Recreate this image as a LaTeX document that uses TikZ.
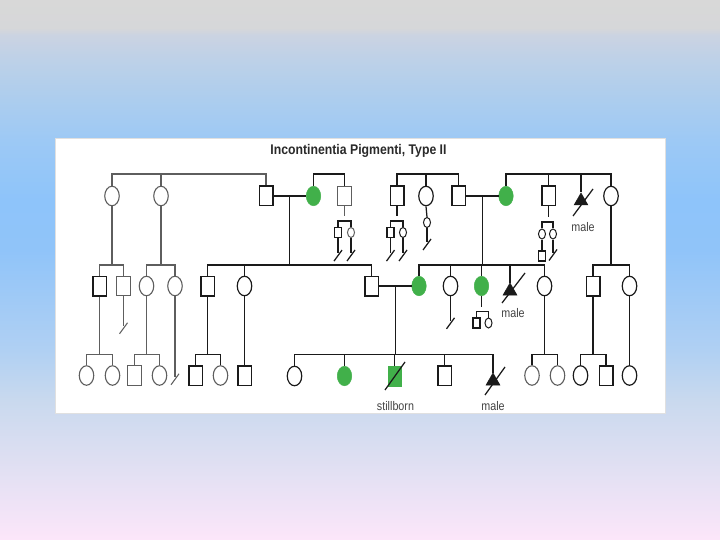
\documentclass[tikz,border=0pt]{standalone}
\usepackage{fontspec}
\setmainfont{Liberation Sans}
\usetikzlibrary{shapes.geometric}
\definecolor{bgA}{HTML}{FCE6FA}
\definecolor{bgB}{HTML}{E2E0F3}
\definecolor{bgC}{HTML}{C9D9EE}
\definecolor{bgD}{HTML}{B0D0F3}
\definecolor{bgE}{HTML}{90C4F9}
\definecolor{bgF}{HTML}{8EC4FA}
\definecolor{bgG}{HTML}{9DC9F5}
\definecolor{bgH}{HTML}{ACCDEE}
\definecolor{bgI}{HTML}{BDD1E8}
\definecolor{bgJ}{HTML}{CBD3E2}
\definecolor{bgK}{HTML}{D6D7D9}
\definecolor{bgL}{HTML}{D8D8D8}
\definecolor{lc}{HTML}{1A1A1A}
\definecolor{gc}{HTML}{5E5E5E}
\definecolor{ipgreen}{HTML}{41B04A}
\definecolor{titc}{HTML}{2A2A2A}
\definecolor{labc}{HTML}{444444}
\pgfdeclareverticalshading{bgshade}{100bp}{color(0bp)=(bgA); color(25bp)=(bgA); color(31.48bp)=(bgB); color(37.96bp)=(bgC); color(42.59bp)=(bgD); color(51.85bp)=(bgE); color(56.48bp)=(bgF); color(62.04bp)=(bgG); color(65.74bp)=(bgH); color(69.44bp)=(bgI); color(71.76bp)=(bgJ); color(72.41bp)=(bgK); color(75bp)=(bgL); color(100bp)=(bgL)}
\newcommand\pedslash[1]{\draw[ln] (#1) ++(-4,8) -- ++(8,-11);}
\begin{document}
\begin{tikzpicture}[x=1pt,y=-1pt,
  sq/.style={rectangle,inner sep=0pt,minimum width=13.5pt,minimum height=19.5pt,draw=lc,line width=1.5pt},
  gsq/.style={sq,draw=gc,line width=1.1pt},
  ci/.style={ellipse,inner sep=0pt,minimum width=14.5pt,minimum height=19.5pt,draw=lc,line width=1.2pt},
  gci/.style={ci,draw=gc,line width=1.1pt},
  ssq/.style={rectangle,inner sep=0pt,minimum width=7pt,minimum height=10pt,draw=lc,line width=1.2pt},
  sci/.style={ellipse,inner sep=0pt,minimum width=7pt,minimum height=10pt,draw=lc,line width=1pt},
  aff/.style={fill=ipgreen,draw=ipgreen,line width=0.5pt},
  tri/.style={regular polygon,regular polygon sides=3,inner sep=0pt,minimum size=16pt,fill=lc,draw=lc,line width=0.5pt},
  lab/.style={text=labc,font=\fontsize{12.5}{14}\selectfont,inner sep=0pt,anchor=base},
  ln/.style={draw=lc,line width=1.25pt},
  lg/.style={draw=gc,line width=1.05pt}
]
\useasboundingbox (0,0) rectangle (720,540);
\fill[shading=bgshade] (0,0) rectangle (720,540);
\draw[fill=white,draw=black!12,line width=0.8pt] (55,138) rectangle (665,413);

\node[font=\bfseries\fontsize{14}{16}\selectfont,text=titc,anchor=base,inner sep=0pt] (title) at (358.5,154.5) {\scalebox{0.875}[1]{Incontinentia Pigmenti, Type II}};

\coordinate (L1) at (0,174);
\coordinate (L2) at (0,265);
\coordinate (L3) at (0,354.5);

% Generation I
\node[gci] (a1) at (112,196) {};
\node[gci] (a2) at (161,196) {};
\node[sq] (b1) at (266,196) {};
\node[ci,aff] (b2) at (313.5,196) {};
\node[gsq] (b3) at (344.5,196) {};
\node[sq] (c1) at (397,196) {};
\node[ci] (c2) at (426,196) {};
\node[sq] (c3) at (458.5,196) {};
\node[ci,aff] (c4) at (506,196) {};
\node[sq] (c5) at (548.5,196) {};
\node[tri] (c6) at (581,201) {};
\node[ci] (c7) at (611,196) {};
\node[lab] (lm1) at (583,231) {\scalebox{0.86}[1]{male}};

% small children of generation I
\node[ssq] (s1) at (338,232.5) {};
\node[sci,draw=gc] (s2) at (351,232.5) {};
\node[ssq] (s3) at (390.5,232.5) {};
\node[sci] (s4) at (403,232.5) {};
\node[sci] (s5) at (427,222.5) {};
\node[sci] (s6) at (542,234) {};
\node[sci] (s7) at (553,234) {};
\node[ssq] (s8) at (542,256) {};

% Generation II
\node[sq] (d1) at (99.5,286) {};
\node[gsq] (d2) at (123.5,286) {};
\node[gci] (d3) at (146.5,286) {};
\node[gci] (d4) at (175,286) {};
\node[sq] (d5) at (207.5,286) {};
\node[ci] (d6) at (244.5,286) {};
\node[sq] (d7) at (371.5,286) {};
\node[ci,aff] (d8) at (419,286) {};
\node[ci] (d9) at (450.5,286) {};
\node[ci,aff] (d10) at (481.5,286) {};
\node[tri] (d11) at (510,291) {};
\node[ci] (d12) at (544.5,286) {};
\node[sq] (d13) at (593,286) {};
\node[ci] (d14) at (629.5,286) {};
\node[lab] (lm2) at (513,317) {\scalebox{0.86}[1]{male}};
\node[ssq] (s9) at (476.5,323) {};
\node[sci] (s10) at (488.5,323) {};

% Generation III
\node[gci] (e1) at (86.5,375.5) {};
\node[gci] (e2) at (112.5,375.5) {};
\node[gsq] (e3) at (134.5,375.5) {};
\node[gci] (e4) at (159.5,375.5) {};
\node[sq] (e5) at (195.5,375.5) {};
\node[gci] (e6) at (220.5,375.5) {};
\node[sq] (e7) at (244.5,375.5) {};
\node[ci] (f1) at (294.5,376) {};
\node[ci,aff] (f2) at (344.5,376) {};
\node[sq,fill=ipgreen,draw=ipgreen,line width=0.5pt] (f3) at (394.5,376) {};
\node[sq] (f4) at (444.5,375.5) {};
\node[tri] (f5) at (493,381) {};
\node[lab] (lsb) at (395.5,410) {\scalebox{0.86}[1]{stillborn}};
\node[lab] (lm3) at (493,410) {\scalebox{0.86}[1]{male}};
\node[gci] (g1) at (532,375.5) {};
\node[gci] (g2) at (557.5,375.5) {};
\node[ci] (g3) at (580.5,375.5) {};
\node[sq] (g4) at (606,375.5) {};
\node[ci] (g5) at (629.5,375.5) {};

% ---- connectors, generation I
\draw[lg] (a1.north) |- (b1.north |- L1) -- (b1.north);
\draw[lg] (a2.north) -- (a2.north |- L1);
\draw[ln] (b1.east) -- coordinate (m1) (b2.west);
\draw[ln] (m1) -- (m1 |- L2);
\draw[ln] (b2.north) |- (b3.north |- L1) -- (b3.north);
\draw[ln] (c1.north) |- (c3.north |- L1) -- (c3.north);
\draw[ln] (c2.north) -- (c2.north |- L1);
\draw[ln] (c3.east) -- coordinate (m2) (c4.west);
\draw[ln] (m2) -- (m2 |- L2);
\draw[ln] (c4.north) |- (c7.north |- L1) -- (c7.north);
\draw[ln] (c5.north) -- (c5.north |- L1);
\draw[ln] (c6.north) -- (c6.north |- L1);
\draw[ln] (c6.center) ++(-8,15) -- ++(20,-27);

% small children
\draw[lg] (b3.south) -- ++(0,10);
\draw[ln] (s1.north) -- ++(0,-6) -| (s2.north);
\draw[ln] (s1.south) -- ++(0,15) coordinate (s1e);
\pedslash{s1e}
\draw[ln] (s2.south) -- ++(0,15) coordinate (s2e);
\pedslash{s2e}
\draw[ln] (c1.south) -- ++(0,10);
\draw[ln] (s3.north) -- ++(0,-6) -| (s4.north);
\draw[ln] (s3.south) -- ++(0,15) coordinate (s3e);
\pedslash{s3e}
\draw[ln] (s4.south) -- ++(0,15) coordinate (s4e);
\pedslash{s4e}
\draw[ln] (c2.south) -- (s5.north);
\draw[ln] (s5.south) -- ++(0,14) coordinate (s5e);
\pedslash{s5e}
\draw[ln] (c5.south) -- ++(0,10.5);
\draw[ln] (s6.north) -- ++(0,-6.5) -| (s7.north);
\draw[ln] (s6.south) -- (s8.north);
\draw[ln] (s7.south) -- ++(0,13) coordinate (s7e);
\pedslash{s7e}
\draw[ln] (c7.south) -- (c7.south |- L2);

% ---- generation II
\draw[lg] (a1.south) -- (a1.south |- L2);
\draw[lg] (d1.north) |- (d2.north |- L2) -- (d2.north);
\draw[lg] (a2.south) -- (a2.south |- L2);
\draw[lg] (d3.north) |- (d4.north |- L2) -- (d4.north);
\draw[ln,line width=1.6pt] (d5.north) |- (d7.north |- L2) -- (d7.north);
\draw[ln] (d6.north) -- (d6.north |- L2);
\draw[ln,line width=1.6pt] (d8.north) |- (d12.north |- L2) -- (d12.north);
\draw[ln] (d9.north) -- (d9.north |- L2);
\draw[ln] (d10.north) -- (d10.north |- L2);
\draw[ln] (d11.north) -- (d11.north |- L2);
\draw[ln] (d11.center) ++(-8,12) -- ++(23,-30);
\draw[ln] (d13.north) |- (d14.north |- L2) -- (d14.north);
\draw[ln] (d7.east) -- coordinate (m3) (d8.west);
\draw[ln] (m3) -- (m3 |- L3);
\draw[lg] (d2.south) -- ++(0,29.5) coordinate (d2e);
\draw[lg] (d2e) ++(-4,8) -- ++(8,-11);
\draw[lg] (d4.south) -- ++(0,80.5) coordinate (d4e);
\draw[lg] (d4e) ++(-4,8) -- ++(8,-11);
\draw[ln] (d9.south) -- ++(0,24.5) coordinate (d9e);
\pedslash{d9e}
\draw[ln] (d10.south) -- ++(0,11);
\draw[ln] (s9.north) -- ++(0,-6) -| (s10.north);

% ---- generation III
\draw[lg] (d1.south) -- (d1.south |- L3);
\draw[lg] (e1.north) |- (e2.north |- L3) -- (e2.north);
\draw[lg] (d3.south) -- (d3.south |- L3);
\draw[lg] (e3.north) |- (e4.north |- L3) -- (e4.north);
\draw[ln] (d5.south) -- (d5.south |- L3);
\draw[ln] (e5.north) |- (e6.north |- L3) -- (e6.north);
\draw[ln] (d6.south) -- (e7.north);
\draw[ln] (f1.north) |- (f5.north |- L3) -- (f5.north);
\draw[ln] (f2.north) -- (f2.north |- L3);
\draw[ln] (f3.north) -- (f3.north |- L3);
\draw[ln] (f4.north) -- (f4.north |- L3);
\draw[ln] (f3.center) ++(-9.5,14) -- ++(20,-28);
\draw[ln] (f5.center) ++(-8,14) -- ++(20,-28);
\draw[ln] (d12.south) -- (d12.south |- L3);
\draw[ln] (g1.north) |- (g2.north |- L3) -- (g2.north);
\draw[ln] (d13.south) -- (d13.south |- L3);
\draw[ln] (g3.north) |- (g4.north |- L3) -- (g4.north);
\draw[ln] (d14.south) -- (g5.north);
\end{tikzpicture}
\end{document}
